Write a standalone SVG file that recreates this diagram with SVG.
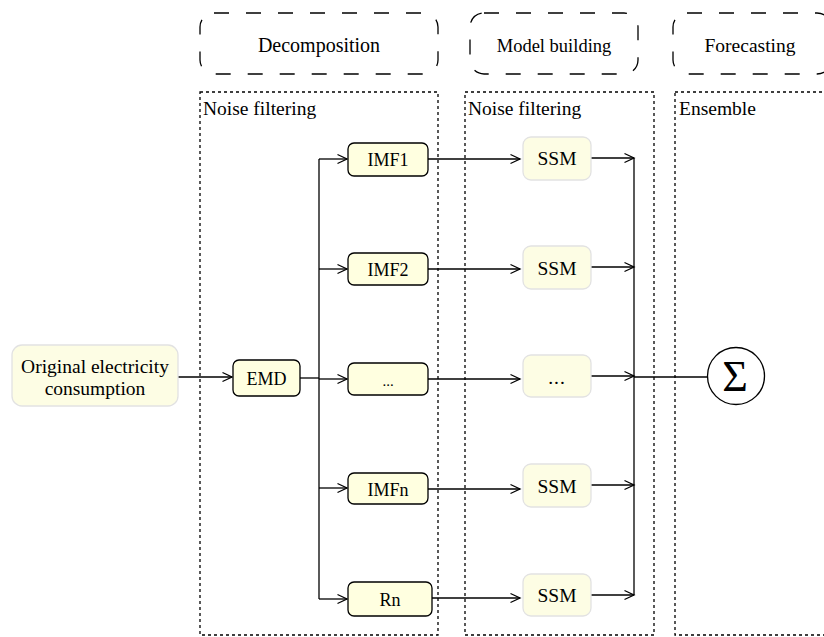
<svg xmlns="http://www.w3.org/2000/svg" width="824" height="637" viewBox="0 0 824 637" font-family="'Liberation Serif', 'DejaVu Serif', serif">
<defs>
<marker id="arr" markerUnits="userSpaceOnUse" markerWidth="12" markerHeight="12" refX="10" refY="5" orient="auto" viewBox="0 0 12 10">
<path d="M0.5,0.5 L10,5 L0.5,9.5" fill="none" stroke="#000" stroke-width="1.3"/>
</marker>
</defs>
<style>
text{font-family:'Liberation Serif','DejaVu Serif',serif;fill:#000}
.stage{fill:none;stroke:#000;stroke-width:1.3;stroke-dasharray:15 17}
.region{fill:none;stroke:#000;stroke-width:1.3;stroke-dasharray:3 3}
.bn{fill:#FFFFE0;stroke:#000;stroke-width:1.3}
.gn{fill:#FDFDE4;stroke:#E2E2E2;stroke-width:1.3}
.t{font-size:19.5px;text-anchor:middle}
.s{font-size:18px;text-anchor:middle}
.lbl{font-size:19.5px}
.c{fill:none;stroke:#000;stroke-width:1.3}
.a{fill:none;stroke:#000;stroke-width:1.3;marker-end:url(#arr)}
</style>
<g id="stage-decomposition"><rect class="stage" x="200" y="13" width="238" height="61" rx="14"/><text class="t" x="319" y="52" style="font-size:20px">Decomposition</text></g>
<g id="stage-model"><rect class="stage" x="470" y="13" width="168" height="61" rx="14"/><text class="t" x="554" y="52" style="font-size:18.5px">Model building</text></g>
<g id="stage-forecasting"><rect class="stage" x="673" y="13" width="158" height="61" rx="14"/><text class="t" x="750" y="52">Forecasting</text></g>
<g id="region-1"><rect class="region" x="200" y="92" width="238" height="543"/><text class="lbl" x="203" y="115">Noise filtering</text></g>
<g id="region-2"><rect class="region" x="465" y="92" width="189" height="543"/><text class="lbl" x="468" y="115">Noise filtering</text></g>
<g id="region-3"><rect class="region" x="675" y="92" width="200" height="543"/><text class="lbl" x="679" y="115">Ensemble</text></g>
<g id="connectors">
<path class="a" d="M178,377 H232"/>
<path class="c" d="M300,378 H319"/>
<path class="c" d="M319,159 V599"/>
<path class="a" d="M319,159 H347"/>
<path class="a" d="M319,269 H347"/>
<path class="a" d="M319,379 H347"/>
<path class="a" d="M319,488 H347"/>
<path class="a" d="M319,599 H347"/>
<path class="a" d="M428,159 H520"/>
<path class="a" d="M428,269 H520"/>
<path class="a" d="M428,379 H520"/>
<path class="a" d="M428,489 H520"/>
<path class="a" d="M432,598 H520"/>
<path class="a" d="M591,158 H634"/>
<path class="a" d="M591,267 H634"/>
<path class="a" d="M591,376 H634"/>
<path class="a" d="M591,485 H634"/>
<path class="a" d="M591,595 H634"/>
<path class="c" d="M634,158 V595"/>
<path class="c" d="M634,377 H707"/>
</g>
<g id="original"><rect class="gn" x="12" y="345" width="166" height="61" rx="10"/><text class="t" x="95" y="373">Original electricity</text><text class="t" x="95" y="395">consumption</text></g>
<g id="emd"><rect class="bn" x="233" y="360" width="67" height="36" rx="6"/><text class="s" x="266.5" y="385">EMD</text></g>
<g id="imf1"><rect class="bn" x="348" y="143" width="80" height="33" rx="6"/><text class="s" x="388" y="166">IMF1</text></g>
<g id="imf2"><rect class="bn" x="348" y="253" width="80" height="32" rx="6"/><text class="s" x="388" y="276">IMF2</text></g>
<g id="imf-dots"><rect class="bn" x="348" y="363" width="80" height="32" rx="6"/><text class="s" x="388" y="386" style="font-size:15px">...</text></g>
<g id="imfn"><rect class="bn" x="348" y="473" width="80" height="31" rx="6"/><text class="s" x="388" y="496">IMFn</text></g>
<g id="rn"><rect class="bn" x="348" y="582" width="84" height="34" rx="6"/><text class="s" x="390" y="606">Rn</text></g>
<g id="ssm1"><rect class="gn" x="523" y="137" width="68" height="43" rx="8"/><text class="t" x="557" y="165">SSM</text></g>
<g id="ssm2"><rect class="gn" x="523" y="246" width="68" height="43" rx="8"/><text class="t" x="557" y="275">SSM</text></g>
<g id="ssm-dots"><rect class="gn" x="523" y="355" width="68" height="42" rx="8"/><text class="t" x="557" y="384" letter-spacing="1">...</text></g>
<g id="ssmn"><rect class="gn" x="523" y="464" width="68" height="43" rx="8"/><text class="t" x="557" y="493">SSM</text></g>
<g id="ssmr"><rect class="gn" x="523" y="574" width="68" height="42" rx="8"/><text class="t" x="557" y="602">SSM</text></g>
<g id="sum"><circle cx="736" cy="376" r="28.5" fill="#fff" stroke="#000" stroke-width="1.3"/><text x="735" y="391" text-anchor="middle" style="font-size:44px">Σ</text></g>
</svg>
